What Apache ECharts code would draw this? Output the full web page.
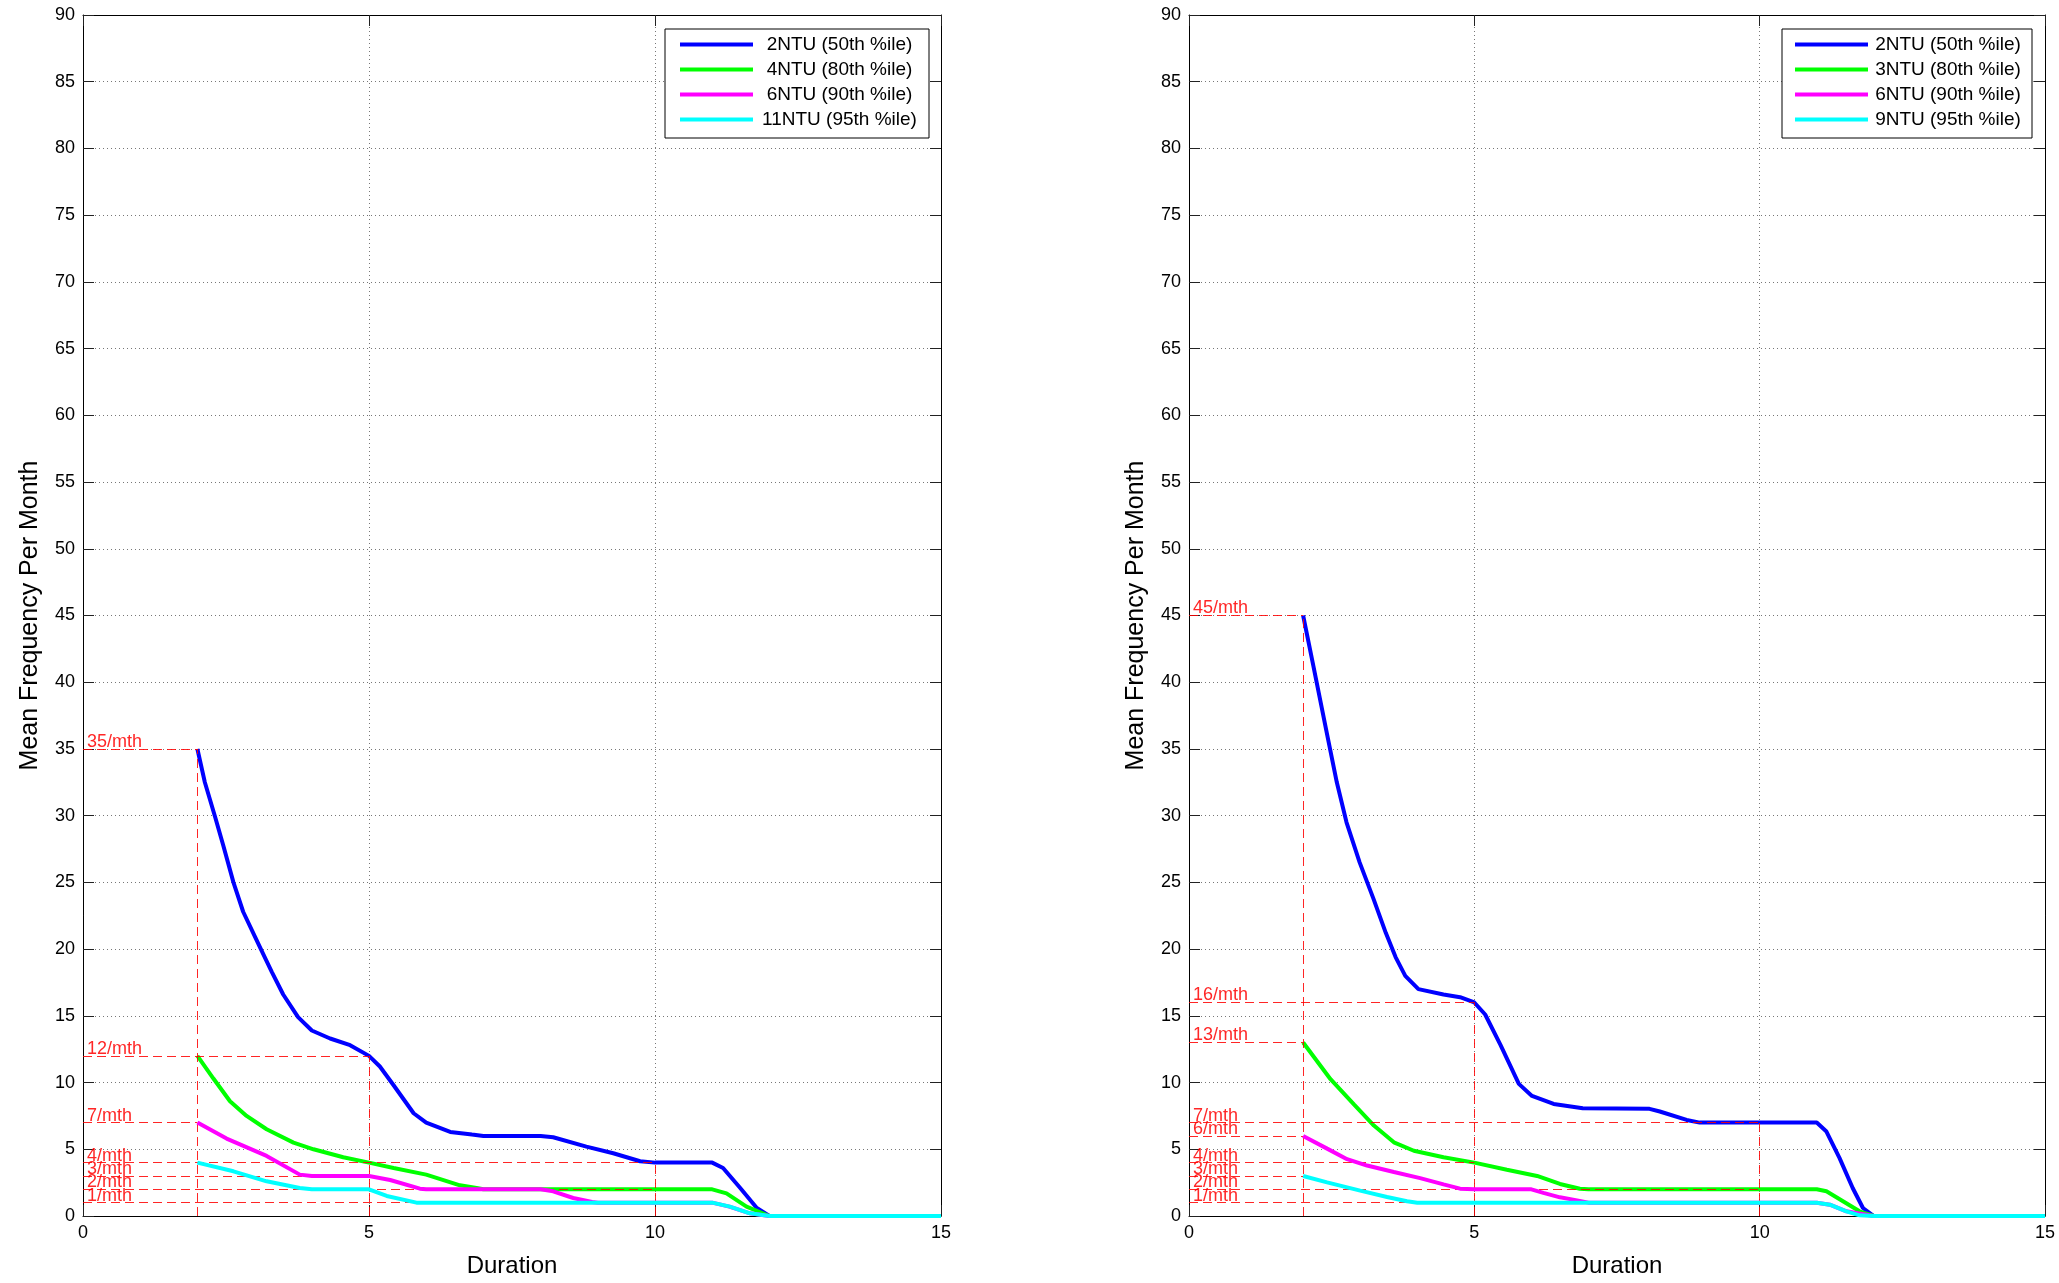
<!DOCTYPE html>
<html>
<head>
<meta charset="utf-8">
<script src="https://cdn.jsdelivr.net/npm/echarts@6/dist/echarts.min.js"></script>
<style>
  html, body { margin: 0; padding: 0; background: #fff; }
  #chart { width: 2059px; height: 1283px; }
</style>
</head>
<body>
<div id="chart"></div>
<script>
const FONT = '"Liberation Sans", Arial, Helvetica, sans-serif';

// ---- Left panel: [duration, mean frequency per month] ----
const leftNames = ['2NTU (50th %ile)', '4NTU (80th %ile)', '6NTU (90th %ile)', '11NTU (95th %ile)'];
const leftBlue = [[2,35],[2.13,32.5],[2.31,29.9],[2.45,27.8],[2.63,25.0],[2.8,22.8],[3.01,20.9],[3.12,19.9],[3.3,18.3],[3.5,16.6],[3.76,14.9],[4,13.9],[4.32,13.3],[4.67,12.8],[5,12],[5.19,11.2],[5.43,9.8],[5.78,7.7],[6,7],[6.42,6.3],[6.8,6.1],[7,6],[8,6],[8.22,5.9],[8.8,5.2],[9.27,4.7],[9.74,4.1],[10,4],[11,4],[11.19,3.6],[11.49,2.1],[11.78,0.6],[12,0],[15,0]];
const leftGreen = [[2,12],[2.28,10.3],[2.57,8.6],[2.86,7.5],[3.21,6.5],[3.68,5.5],[4.03,5.0],[4.55,4.4],[5,4],[5.43,3.6],[6,3.1],[6.59,2.3],[6.88,2.1],[7,2],[11,2],[11.25,1.7],[11.6,0.7],[12,0],[15,0]];
const leftMagenta = [[2,7],[2.51,5.8],[3.21,4.5],[3.79,3.1],[4,3],[5,3],[5.37,2.7],[5.89,2.05],[6,2],[8,2],[8.22,1.85],[8.57,1.35],[8.9,1.05],[9,1],[11,1],[11.3,0.7],[11.66,0.2],[12,0],[15,0]];
const leftCyan = [[2,4],[2.63,3.35],[3.21,2.6],[3.79,2.1],[4,2],[5,2],[5.31,1.5],[5.83,1.0],[6,1],[11,1],[11.31,0.7],[11.66,0.2],[12,0],[15,0]];

// ---- Right panel ----
const rightNames = ['2NTU (50th %ile)', '3NTU (80th %ile)', '6NTU (90th %ile)', '9NTU (95th %ile)'];
const rightBlue = [[2,45],[2.18,41.2],[2.41,36.3],[2.59,32.5],[2.76,29.5],[2.99,26.5],[3.23,23.8],[3.45,21.2],[3.62,19.4],[3.79,18],[4.02,17],[4.46,16.6],[4.75,16.4],[5,16],[5.19,15.1],[5.46,12.8],[5.78,9.9],[6.01,9],[6.39,8.4],[6.9,8.08],[8.07,8.03],[8.25,7.83],[8.72,7.2],[8.95,7],[11,7],[11.17,6.33],[11.4,4.34],[11.63,2.1],[11.81,0.6],[12,0],[15,0]];
const rightGreen = [[2,13],[2.48,10.25],[2.89,8.36],[3.24,6.78],[3.59,5.52],[3.94,4.89],[4.46,4.4],[5,4],[5.57,3.47],[6.1,3],[6.5,2.4],[6.85,2.04],[7,2],[11,2],[11.17,1.85],[11.46,1.1],[11.75,0.35],[12,0],[15,0]];
const rightMagenta = [[2,6],[2.42,5.05],[2.77,4.26],[3.12,3.78],[3.59,3.3],[4.05,2.84],[4.46,2.37],[4.75,2.05],[5,2],[6,2],[6.21,1.73],[6.5,1.4],[6.8,1.17],[7,1],[11,1],[11.23,0.85],[11.52,0.35],[12,0],[15,0]];
const rightCyan = [[2,3],[2.42,2.52],[3,1.9],[3.47,1.42],[3.82,1.1],[4,1],[11,1],[11.23,0.85],[11.52,0.35],[11.75,0.05],[12,0],[15,0]];

// ---- Reference levels (per month) and how far along the duration axis each runs ----
const leftLevels = [35, 12, 7, 4, 3, 2, 1];
const leftLevelEnds = [2, 5, 2, 10, 5, 10, 10];
const leftDurations = [2, 5, 10];
const leftDurationTops = [35, 12, 4];

const rightLevels = [45, 16, 13, 7, 6, 4, 3, 2, 1];
const rightLevelEnds = [2, 5, 2, 10, 2, 5, 2, 10, 10];
const rightDurations = [2, 5, 10];
const rightDurationTops = [45, 16, 7];

// ---- Axis ranges ----
const xRange = { min: 0, max: 15, interval: 5 };
const yRange = { min: 0, max: 90, interval: 5 };

const colors = ['#0000ff', '#00ff00', '#ff00ff', '#00ffff'];

const gridBoxes = [
  { left: 83, top: 15, width: 858, height: 1203 },
  { left: 1189, top: 15, width: 856, height: 1203 }
];

const dotted = { show: true, lineStyle: { color: '#777', width: 1, type: [1, 3] } };
const axisLine = { show: true, onZero: false, lineStyle: { color: '#000', width: 1 } };
const tickIn = { show: true, inside: true, length: 11, lineStyle: { color: '#222', width: 1 } };

const xAxes = [], yAxes = [];
gridBoxes.forEach((g, i) => {
  xAxes.push({
    gridIndex: i, type: 'value', position: 'bottom', ...xRange,
    axisLine, axisTick: tickIn, splitLine: dotted,
    axisLabel: { color: '#000', fontFamily: FONT, fontSize: 18, margin: 8 },
    name: 'Duration', nameLocation: 'middle', nameGap: 38,
    nameTextStyle: { color: '#000', fontFamily: FONT, fontSize: 24 }
  });
  xAxes.push({
    gridIndex: i, type: 'value', position: 'top', ...xRange,
    axisLine, axisTick: tickIn, splitLine: { show: false }, axisLabel: { show: false }
  });
  yAxes.push({
    gridIndex: i, type: 'value', position: 'left', ...yRange,
    axisLine, axisTick: tickIn, splitLine: dotted,
    axisLabel: { color: '#000', fontFamily: FONT, fontSize: 18, margin: 8 },
    name: 'Mean Frequency Per Month', nameLocation: 'middle', nameGap: 40,
    nameTextStyle: { color: '#000', fontFamily: FONT, fontSize: 25 }
  });
  yAxes.push({
    gridIndex: i, type: 'value', position: 'right', ...yRange,
    axisLine, axisTick: tickIn, splitLine: { show: false }, axisLabel: { show: false }
  });
});

function curveSeries(panel, names, datasets) {
  return datasets.map((d, k) => ({
    type: 'line', name: names[k],
    xAxisIndex: panel * 2, yAxisIndex: panel * 2,
    data: d, showSymbol: false, symbol: 'none', smooth: false,
    lineStyle: { color: colors[k], width: 4 },
    itemStyle: { color: colors[k] },
    z: 3 + k, silent: true
  }));
}

function refSeries(panel, levels, ends, durations, tops) {
  const lines = [];
  levels.forEach((v, i) => {
    lines.push([
      { coord: [0, v], label: { show: true, formatter: v + '/mth' } },
      { coord: [ends[i], v] }
    ]);
  });
  durations.forEach((d, i) => {
    lines.push([
      { coord: [d, 0], label: { show: false } },
      { coord: [d, tops[i]] }
    ]);
  });
  return {
    type: 'line', name: 'ref' + panel,
    xAxisIndex: panel * 2, yAxisIndex: panel * 2,
    data: [], showSymbol: false, silent: true, z: 10,
    markLine: {
      silent: true, symbol: ['none', 'none'], animation: false,
      lineStyle: { color: '#ff0000', width: 1, type: [9, 5], opacity: 0.85 },
      label: {
        position: 'insideStartTop', distance: [4, -2],
        color: '#ff0000', fontFamily: FONT, fontSize: 18
      },
      emphasis: { disabled: true },
      data: lines
    }
  };
}

function legendFor(names, left, textWidth, padding) {
  return {
    orient: 'vertical', left: left, top: 29,
    data: names, icon: 'rect', itemWidth: 73, itemHeight: 4, itemGap: 6,
    padding: padding, borderColor: '#000', borderWidth: 1, backgroundColor: '#fff',
    selectedMode: false,
    formatter: n => '{t|' + n + '}',
    textStyle: {
      color: '#000', fontFamily: FONT, fontSize: 19,
      rich: { t: { width: textWidth, align: 'center', fontFamily: FONT, fontSize: 19, lineHeight: 20, color: '#000' } }
    }
  };
}

const chart = echarts.init(document.getElementById('chart'), null, { renderer: 'canvas' });
chart.setOption({
  animation: false,
  backgroundColor: '#fff',
  grid: gridBoxes.map(g => ({ ...g, containLabel: false })),
  xAxis: xAxes,
  yAxis: yAxes,
  legend: [
    legendFor(leftNames, 665, 163, [6, 8, 9, 15]),
    legendFor(rightNames, 1782, 150, [6, 9, 9, 13])
  ],
  series: [
    ...curveSeries(0, leftNames, [leftBlue, leftGreen, leftMagenta, leftCyan]),
    refSeries(0, leftLevels, leftLevelEnds, leftDurations, leftDurationTops),
    ...curveSeries(1, rightNames, [rightBlue, rightGreen, rightMagenta, rightCyan]),
    refSeries(1, rightLevels, rightLevelEnds, rightDurations, rightDurationTops)
  ]
});
</script>
</body>
</html>
